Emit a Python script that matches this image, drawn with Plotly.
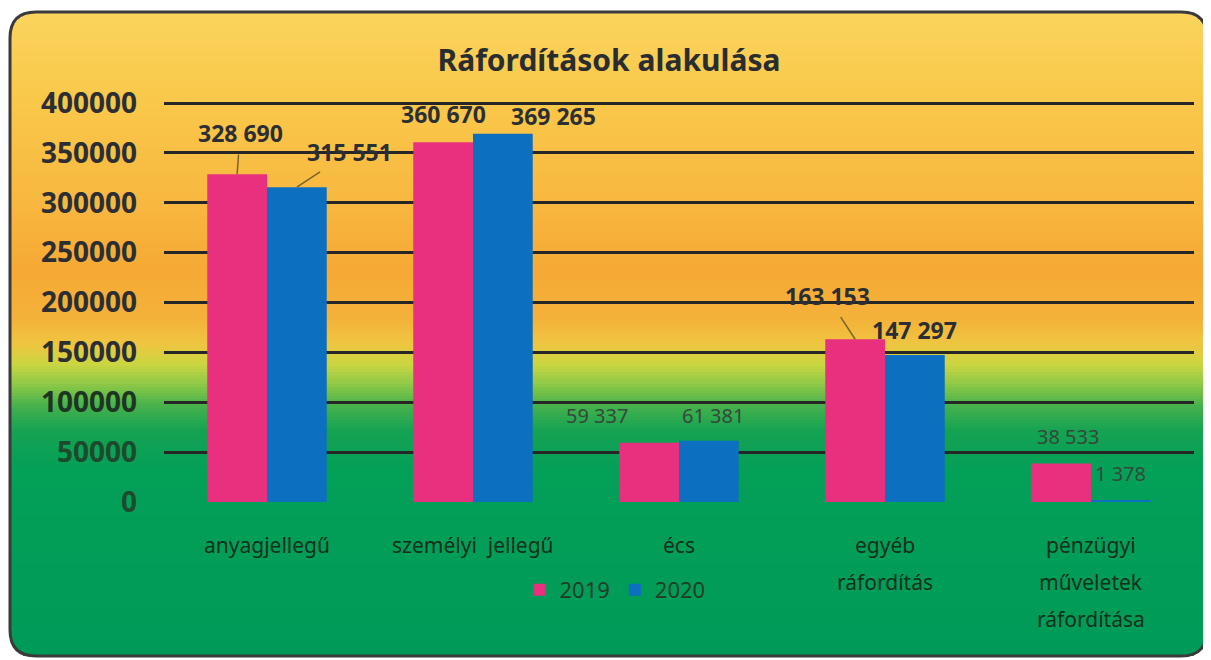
import math
import plotly.graph_objects as go

# page body adds an 8px margin, so the figure is drawn 8px smaller and all
# pixel positions below are given in page coordinates
OFF = 8
W, H = 1211 - OFF, 660 - OFF

# data
categories = ["anyagjellegű", "személyi\u00a0 jellegű", "écs", "egyéb<br>ráfordítás",
              "pénzügyi<br>műveletek<br>ráfordítása"]
years = ["2019", "2020"]
values_2019 = [328690, 360670, 59337, 163153, 38533]
values_2020 = [315551, 369265, 61381, 147297, 1378]
y_ticks = [0, 50000, 100000, 150000, 200000, 250000, 300000, 350000, 400000]
y_tick_labels = ["0", "50000", "100000", "150000", "200000", "250000", "300000", "350000", "400000"]
title_text = "Ráfordítások alakulása"

# label placement (pixel offsets of label centre from bar top, leader line on/off)
offsets_2019 = [(3, -41, True), (0, -28, False), (-52, -27, False), (-28, -43, True), (7, -27, False)]
offsets_2020 = [(53, -35, True), (51, -18, False), (4, -25, False), (0, -25, False), (0, -27, False)]

PINK = "#E9307F"
BLUE = "#0C6FC0"
FONT = "Noto Sans"

# plot area in page pixels
PX0, PX1 = 164, 1194
PY_TOP, PY_ZERO = 103, 502
Y_MAX = 402000   # a little headroom so the 400000 grid line is drawn
BARGAP = 0.42


def px(x):
    return (x - OFF) / W


def py(y):
    return 1 - (y - OFF) / H


fig = go.Figure()
for name, vals, col in [(years[0], values_2019, PINK), (years[1], values_2020, BLUE)]:
    fig.add_trace(go.Bar(x=categories, y=vals, name=name, marker_color=col,
                         marker_line_width=0))

# gradient background of the rounded box
stops = [(12, "#FAD45C"), (100, "#F9C84A"), (200, "#F8B840"), (270, "#F6A934"),
         (320, "#F4B23A"), (345, "#EEC640"), (365, "#C8D642"), (385, "#8CC846"),
         (405, "#48B24C"), (430, "#16A252"), (470, "#03A058"), (656, "#009A58")]


def hex2rgb(h):
    return tuple(int(h[i:i + 2], 16) for i in (1, 3, 5))


def color_at(y):
    for (y0, c0), (y1, c1) in zip(stops, stops[1:]):
        if y0 <= y <= y1:
            t = (y - y0) / (y1 - y0)
            a, b = hex2rgb(c0), hex2rgb(c1)
            return "rgb(%d,%d,%d)" % tuple(round(a[i] + (b[i] - a[i]) * t) for i in range(3))
    return stops[-1][1]


top, bottom, left, right, r = 12, 656, 10, 1207, 26
shapes = []
step = 3
for y in range(top, bottom, step):
    ym = y + step / 2
    inset = 0
    if ym < top + r:
        d = top + r - ym
        inset = r - math.sqrt(max(r * r - d * d, 0))
    elif ym > bottom - r:
        d = ym - (bottom - r)
        inset = r - math.sqrt(max(r * r - d * d, 0))
    shapes.append(dict(type="rect", xref="paper", yref="paper",
                       x0=px(left + inset), x1=px(right - inset),
                       y0=py(min(y + step + 2, bottom)), y1=py(y),
                       fillcolor=color_at(ym), line_width=0, layer="below"))

border = (f"M {px(left + r)},{py(top)} L {px(right - r)},{py(top)} "
          f"Q {px(right)},{py(top)} {px(right)},{py(top + r)} L {px(right)},{py(bottom - r)} "
          f"Q {px(right)},{py(bottom)} {px(right - r)},{py(bottom)} L {px(left + r)},{py(bottom)} "
          f"Q {px(left)},{py(bottom)} {px(left)},{py(bottom - r)} L {px(left)},{py(top + r)} "
          f"Q {px(left)},{py(top)} {px(left + r)},{py(top)} Z")
shapes.append(dict(type="path", xref="paper", yref="paper", path=border,
                   line=dict(color="#3a3a3a", width=3), layer="below"))

# data labels
bar_w = (PX1 - PX0) / len(categories) * (1 - BARGAP) / 2
annotations = []
for vals, offs, side in [(values_2019, offsets_2019, -1), (values_2020, offsets_2020, 1)]:
    for cat, v, (dx, dy, lead) in zip(categories, vals, offs):
        big = v >= 100000
        annotations.append(dict(
            x=cat, y=v, xref="x", yref="y", text=f"{v:,}".replace(",", " "),
            xshift=side * bar_w / 2, showarrow=True, ax=dx, ay=dy,
            arrowhead=0, arrowwidth=1.5, startstandoff=4 if lead else 0,
            arrowcolor="#7a6428" if lead else "rgba(0,0,0,0)",
            font=dict(family=FONT, size=23 if big else 20,
                      color="#2b2e33" if big else "#34493a",
                      weight="bold" if big else "normal")))

# category labels, one line at a time
for cat in categories:
    for i, line in enumerate(cat.split("<br>")):
        annotations.append(dict(x=cat, y=0, xref="x", yref="y", text=line, showarrow=False,
                                yanchor="middle", yshift=-(43 + 37 * i),
                                font=dict(family=FONT, size=21, color="#10301a")))


def tick_color(v):
    if v >= 150000:
        return "#2b2e33"
    if v >= 100000:
        return "#1e3524"
    return "#1b4a2c"


tick_text = [f'<span style="color:{tick_color(v)}">{t}</span>' for v, t in zip(y_ticks, y_tick_labels)]

y_dom_top = PY_ZERO - (PY_ZERO - PY_TOP) * Y_MAX / 400000

fig.update_layout(
    width=W, height=H,
    margin=dict(l=0, r=0, t=0, b=0, autoexpand=False),
    paper_bgcolor="white", plot_bgcolor="rgba(0,0,0,0)",
    barmode="group", bargap=BARGAP, bargroupgap=0,
    title=dict(text=title_text, x=px(609), y=py(60), xanchor="center", yanchor="middle",
               font=dict(family=FONT, size=30, color="#2a2d30", weight="bold")),
    xaxis=dict(domain=[px(PX0), px(PX1)], showticklabels=False, showgrid=False,
               showline=False, zeroline=False),
    yaxis=dict(domain=[py(PY_ZERO), py(y_dom_top)], range=[0, Y_MAX],
               tickvals=y_ticks, ticktext=tick_text, ticks="",
               ticklabelstandoff=26, showline=False, zeroline=False,
               gridcolor="#262626", gridwidth=2.5,
               tickfont=dict(family=FONT, size=28, color="#2b2e33", weight="bold")),
    legend=dict(orientation="h", x=px(615), y=py(590), xanchor="center", yanchor="middle",
                bgcolor="rgba(0,0,0,0)", font=dict(family=FONT, size=22, color="#1f3d27"),
                traceorder="normal", itemwidth=30),
    shapes=shapes,
    annotations=annotations,
)

fig.write_html("out.html")
